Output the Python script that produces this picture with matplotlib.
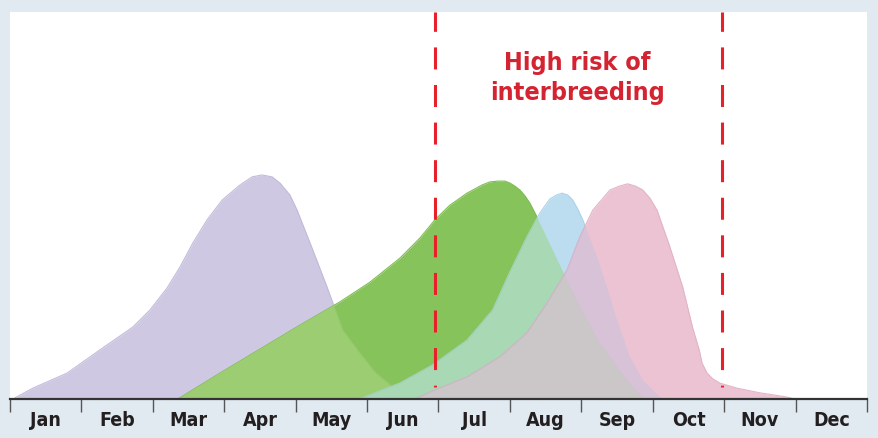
import matplotlib.pyplot as plt
from matplotlib import font_manager

MONTHS = ["Jan", "Feb", "Mar", "Apr", "May", "Jun",
          "Jul", "Aug", "Sep", "Oct", "Nov", "Dec"]

# curves: x in months from 1 Jan, y = relative abundance
purple_x = [0.07, 0.32, 0.80, 1.26, 1.72, 1.96, 2.20, 2.38, 2.56, 2.76, 2.97, 3.22,
            3.39, 3.53, 3.67, 3.78, 3.92, 4.02, 4.24, 4.44, 4.66, 4.90, 5.11, 5.36,
            5.64, 5.81]
purple_y = [0.3, 2.8, 6.7, 12.7, 18.6, 23.0, 28.7, 34.1, 40.3, 46.3, 51.4, 55.3,
            57.4, 57.9, 57.4, 55.8, 52.7, 48.8, 38.5, 28.9, 17.8, 11.9, 7.0, 3.1,
            0.5, 0.0]

green_x = [2.35, 2.94, 3.50, 4.06, 4.62, 5.04, 5.46, 5.74, 5.95, 6.16, 6.40, 6.61,
           6.72, 6.83, 6.93, 7.00, 7.07, 7.14, 7.21, 7.28, 7.38, 7.60, 7.80, 7.98,
           8.26, 8.50, 8.72, 8.86, 8.96]
green_y = [0.0, 6.7, 12.9, 19.1, 25.1, 30.2, 36.4, 41.6, 46.3, 50.1, 53.2, 55.3,
           56.1, 56.3, 56.3, 55.8, 55.0, 54.0, 52.5, 50.6, 47.0, 38.5, 30.7, 23.8,
           14.5, 8.3, 3.1, 0.5, 0.0]

blue_x = [4.90, 5.18, 5.46, 5.92, 6.40, 6.76, 7.00, 7.24, 7.42, 7.56, 7.65, 7.73,
          7.81, 7.88, 7.95, 8.02, 8.22, 8.36, 8.50, 8.68, 8.86, 9.10, 9.21]
blue_y = [0.0, 2.1, 4.1, 8.8, 15.2, 23.0, 32.8, 41.9, 48.1, 51.7, 52.7, 53.2,
          52.7, 51.4, 49.1, 46.3, 36.7, 28.9, 20.4, 10.9, 4.9, 0.5, 0.0]

pink_x = [5.67, 5.92, 6.40, 6.86, 7.24, 7.52, 7.80, 7.98, 8.16, 8.40, 8.53, 8.65,
          8.76, 8.86, 8.96, 9.06, 9.24, 9.42, 9.56, 9.65, 9.69, 9.76, 9.84, 9.94,
          10.18, 10.50, 10.88, 10.99]
pink_y = [0.0, 2.1, 5.7, 10.9, 17.1, 24.8, 33.3, 41.9, 48.8, 54.0, 55.0, 55.6,
          55.0, 54.0, 51.9, 48.8, 39.3, 28.9, 18.3, 12.7, 9.3, 6.7, 5.2, 4.1,
          2.8, 1.6, 0.5, 0.0]

risk_start = 5.95
risk_end = 9.97

names = {f.name for f in font_manager.fontManager.ttflist}
label_font = ["Liberation Sans Narrow", "DejaVu Sans"] if "Liberation Sans Narrow" in names \
    else ["DejaVu Sans"]

fig = plt.figure(figsize=(8.79, 4.38), dpi=100, facecolor="#e1e9f1")
ax = fig.add_axes([10 / 879, 39 / 438, 857 / 879, 387 / 438])
ax.set_facecolor("white")


def area(xs, ys, color, edge, z, clip=None):
    poly = ax.fill_between(xs, ys, color=color, lw=0, zorder=z)
    line, = ax.plot(xs, ys, color=edge, lw=0.8, zorder=z)
    if clip is not None:
        poly.set_clip_path(clip.get_paths()[0], ax.transData)
        line.set_clip_path(clip.get_paths()[0], ax.transData)
    return poly


purple = area(purple_x, purple_y, "#cfc8e2", "#c3badb", 2)
green = area(green_x, green_y, "#86c35a", "#7dbd50", 3)
area(purple_x, purple_y, "#9ccd72", "#95c86b", 3.1, clip=green)
blue = area(blue_x, blue_y, "#bcdcef", "#add3ea", 4)
area(blue_x, blue_y, "#a9d8b5", "#a0d2ad", 4.1, clip=green)
area(pink_x, pink_y, "#ecc3d2", "#e4b3c5", 5)
area(pink_x, pink_y, "#d7c2d8", "#d0b8d0", 5.1, clip=blue)
area(pink_x, pink_y, "#cbc6c8", "#c4bcc0", 5.2, clip=green)

for x in (risk_start, risk_end):
    ax.plot([x, x], [3.0, 100], color="#e8202a", lw=2.2,
            linestyle=(6.6, (7.2, 5.1)), solid_capstyle="butt", zorder=7)

ax.text(7.94, 83.0, "High risk of\ninterbreeding", color="#d42431", fontsize=18,
        fontweight="bold", fontstretch="condensed", family=label_font,
        ha="center", va="center", linespacing=1.32, zorder=8)

ax.set_xlim(0, 12)
ax.set_ylim(0, 100)
ax.set_yticks([])
ax.set_xticks(range(13))
ax.set_xticklabels([])
ax.set_xticks([i + 0.5 for i in range(12)], minor=True)
ax.set_xticklabels(MONTHS, minor=True, fontsize=14, fontweight="bold",
                   fontstretch="condensed", family=label_font, color="#231f20")
ax.tick_params(axis="x", which="major", direction="out", length=9, width=1,
               color="#555555")
ax.tick_params(axis="x", which="minor", length=0, pad=8.5)
for side in ("left", "right", "top"):
    ax.spines[side].set_visible(False)
ax.spines["bottom"].set_color("#333333")
ax.spines["bottom"].set_linewidth(1.6)
ax.spines["bottom"].set_zorder(6)

fig.savefig("out.png", dpi=100, facecolor=fig.get_facecolor())
